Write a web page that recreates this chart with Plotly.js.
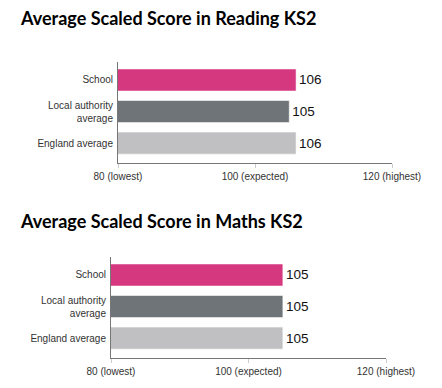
<!DOCTYPE html>
<html><head><meta charset="utf-8">
<script src="https://cdn.plot.ly/plotly-3.0.1.min.js"></script>
<style>html,body{margin:0;padding:0;background:#fff}#c{width:442px;height:388px}</style>
</head><body><div id="c"></div>
<script>
const categories = ["England average", "Local authority<br>average", "School"];
const readingScores = [106, 105, 106];
const mathsScores = [105, 105, 105];
const barColors = ["#C0C0C2", "#6E7477", "#D6387F"];
const tickVals = [80, 100, 120];
const tickLabels = ["80 (lowest)", "100 (expected)", "120 (highest)"];
const titles = ["Average Scaled Score in Reading KS2", "Average Scaled Score in Maths KS2"];

const W = 442, H = 388;
function bar(vals, xa, ya) {
  return {
    type: "bar", orientation: "h", x: vals, y: categories, xaxis: xa, yaxis: ya,
    marker: {color: barColors, line: {color: "rgba(255,255,255,0.55)", width: 1}},
    text: vals.map(String), textposition: "outside", cliponaxis: false,
    textfont: {family: "Liberation Sans, Arial, sans-serif", size: 13.5, color: "#111"},
    hoverinfo: "none", showlegend: false
  };
}
function xax(x0, x1, anchor) {
  return {
    domain: [x0 / W, x1 / W], range: [80, 120], anchor: anchor,
    tickvals: tickVals, ticktext: tickLabels, ticks: "outside", ticklen: 4,
    tickcolor: "#cccccc", showline: true, linecolor: "#777777", linewidth: 1,
    showgrid: false, zeroline: false, fixedrange: true,
    tickfont: {family: "Liberation Sans, Arial, sans-serif", size: 10, color: "#333"}
  };
}
function yax(y0, y1, anchor) {
  return {
    domain: [1 - y1 / H, 1 - y0 / H], range: [-0.63, 2.57], anchor: anchor,
    type: "category", showline: true, linecolor: "#777777", linewidth: 1,
    showgrid: false, zeroline: false, ticks: "", fixedrange: true, ticklabelstandoff: 2,
    tickfont: {family: "Liberation Sans, Arial, sans-serif", size: 10, color: "#333"}
  };
}
const data = [bar(readingScores, "x", "y"), bar(mathsScores, "x2", "y2")];
const layout = {
  width: W, height: H, margin: {l: 0, r: 0, t: 0, b: 0},
  paper_bgcolor: "#fff", plot_bgcolor: "#fff", bargap: 0.3,
  xaxis: xax(118, 392, "y"), yaxis: yax(62, 163, "x"),
  xaxis2: xax(111, 386, "y2"), yaxis2: yax(257, 358, "x2"),
  annotations: [
    {text: "<b>" + titles[0] + "</b>", xref: "paper", yref: "paper", x: 18 / W, y: 1 - 18 / H,
     xanchor: "left", yanchor: "middle", showarrow: false,
     font: {family: "Lato, sans-serif", size: 18, color: "#000"}},
    {text: "<b>" + titles[1] + "</b>", xref: "paper", yref: "paper", x: 18 / W, y: 1 - 221 / H,
     xanchor: "left", yanchor: "middle", showarrow: false,
     font: {family: "Lato, sans-serif", size: 18, color: "#000"}}
  ]
};
Plotly.newPlot("c", data, layout, {staticPlot: true, displayModeBar: false});
</script></body></html>
